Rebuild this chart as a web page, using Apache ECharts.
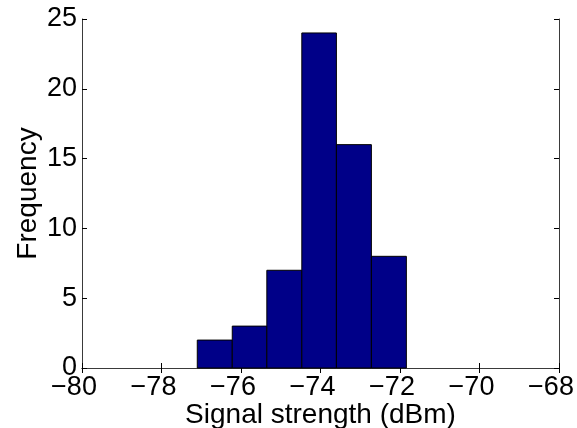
<!DOCTYPE html>
<html>
<head>
<meta charset="utf-8">
<script src="https://cdn.jsdelivr.net/npm/echarts@6/dist/echarts.min.js"></script>
<style>html,body{margin:0;padding:0;background:#fff}#c{width:577px;height:428px}</style>
</head>
<body>
<div id="c"></div>
<script>
// Histogram bin edges (dBm) and counts
var binEdges = [-77.10, -76.22, -75.35, -74.47, -73.60, -72.72, -71.84];
var counts = [2, 3, 7, 24, 16, 8];
var xTicks = [-80, -78, -76, -74, -72, -70, -68];
var yTicks = [0, 5, 10, 15, 20, 25];

var data = counts.map(function (c, i) { return [binEdges[i], binEdges[i + 1], c]; });

var FONT = 'Liberation Sans, Arial, sans-serif';
var axisColor = '#3a3a3a';
var chart = echarts.init(document.getElementById('c'), null, { renderer: 'canvas' });
function fmtMinus(v) { return String(v).replace('-', '\u2212'); }

chart.setOption({
  animation: false,
  grid: { left: 82, right: 18, top: 19, bottom: 60, containLabel: false, outerBoundsMode: 'none' },
  xAxis: [{
    type: 'value', min: xTicks[0], max: xTicks[xTicks.length - 1], interval: 2,
    position: 'bottom',
    name: 'Signal strength (dBm)', nameLocation: 'middle', nameGap: 33, nameMoveOverlap: false,
    nameTextStyle: { fontFamily: FONT, fontSize: 28, color: '#000' },
    axisLine: { show: true, lineStyle: { color: axisColor, width: 1 } },
    axisTick: { show: true, inside: true, length: 5, lineStyle: { color: '#000' } },
    axisLabel: { fontFamily: FONT, fontSize: 27, color: '#000', margin: 6, padding: [0, 16, 0, 0], formatter: fmtMinus },
    splitLine: { show: false }
  }, {
    type: 'value', min: xTicks[0], max: xTicks[xTicks.length - 1], interval: 2,
    position: 'top',
    axisLine: { show: true, lineStyle: { color: axisColor, width: 1 } },
    axisTick: { show: true, inside: true, length: 5, lineStyle: { color: '#000' } },
    axisLabel: { show: false },
    splitLine: { show: false }
  }],
  yAxis: [{
    type: 'value', min: yTicks[0], max: yTicks[yTicks.length - 1], interval: 5,
    position: 'left',
    name: 'Frequency', nameLocation: 'middle', nameGap: 40, nameRotate: 90, nameMoveOverlap: false,
    nameTextStyle: { fontFamily: FONT, fontSize: 28, color: '#000' },
    axisLine: { show: true, lineStyle: { color: axisColor, width: 1 } },
    axisTick: { show: true, inside: true, length: 5, lineStyle: { color: '#000' } },
    axisLabel: { fontFamily: FONT, fontSize: 27, color: '#000', margin: 5 },
    splitLine: { show: false }
  }, {
    type: 'value', min: yTicks[0], max: yTicks[yTicks.length - 1], interval: 5,
    position: 'right',
    axisLine: { show: true, lineStyle: { color: axisColor, width: 1 } },
    axisTick: { show: true, inside: true, length: 5, lineStyle: { color: '#000' } },
    axisLabel: { show: false },
    splitLine: { show: false }
  }],
  series: [{
    type: 'custom',
    xAxisIndex: 0, yAxisIndex: 0,
    renderItem: function (params, api) {
      var p0 = api.coord([api.value(0), api.value(2)]);
      var p1 = api.coord([api.value(1), 0]);
      return {
        type: 'rect',
        shape: { x: p0[0], y: p0[1], width: p1[0] - p0[0], height: p1[1] - p0[1] },
        style: { fill: '#000088', stroke: '#000', lineWidth: 1 }
      };
    },
    encode: { x: [0, 1], y: 2 },
    data: data
  }]
});
</script>
</body>
</html>
